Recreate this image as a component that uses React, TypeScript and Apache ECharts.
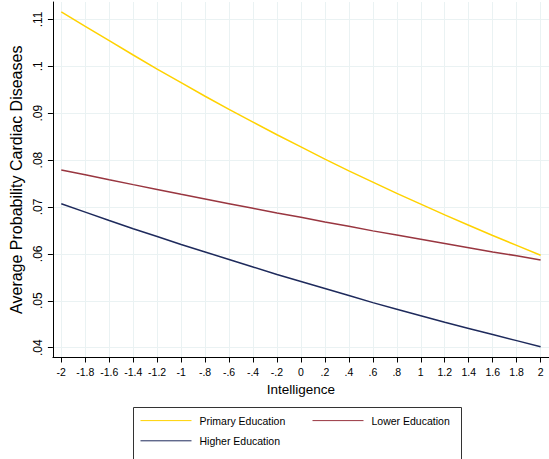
import React, { useEffect, useRef } from "react";
import * as echarts from "echarts";

const xValues = [-2, -1.8, -1.6, -1.4, -1.2, -1, -0.8, -0.6, -0.4, -0.2, 0, 0.2, 0.4, 0.6, 0.8, 1, 1.2, 1.4, 1.6, 1.8, 2];
const primaryEducation = [0.1116, 0.1085, 0.10545, 0.1024, 0.0994, 0.0965, 0.0936, 0.0908, 0.0881, 0.0854, 0.0828, 0.0802, 0.0777, 0.0753, 0.0729, 0.0706, 0.0683, 0.0661, 0.0639, 0.0618, 0.0597];
const lowerEducation = [0.0779, 0.07685, 0.0758, 0.07476, 0.07373, 0.0727, 0.0717, 0.0707, 0.0697, 0.0687, 0.0678, 0.0668, 0.0659, 0.0649, 0.064, 0.0631, 0.0622, 0.0613, 0.0604, 0.0596, 0.0587];
const higherEducation = [0.0707, 0.0689, 0.0671, 0.06535, 0.0637, 0.062, 0.0604, 0.0588, 0.0572, 0.0556, 0.0541, 0.0526, 0.0511, 0.0496, 0.0482, 0.0468, 0.0454, 0.0441, 0.0428, 0.0415, 0.0402];
const xTicks = [-2, -1.8, -1.6, -1.4, -1.2, -1, -0.8, -0.6, -0.4, -0.2, 0, 0.2, 0.4, 0.6, 0.8, 1, 1.2, 1.4, 1.6, 1.8, 2];
const yTicks = [0.04, 0.05, 0.06, 0.07, 0.08, 0.09, 0.1, 0.11];
const seriesNames = ["Primary Education", "Lower Education", "Higher Education"];

const FONT = "'Liberation Sans', Arial, sans-serif";

const fmt = (v: number) => {
  const s = String(+Number(v).toFixed(3));
  return s.replace(/^(-?)0\./, "$1.");
};

const legendBase = {
  orient: "vertical",
  padding: 0,
  itemWidth: 51,
  itemHeight: 14,
  itemGap: 9,
  itemStyle: { opacity: 0 },
  lineStyle: { width: 1 },
  textStyle: { fontSize: 10.5, color: "#000", padding: [0, 0, 0, 3], fontFamily: FONT },
};

export default function App() {
  const ref = useRef<HTMLDivElement>(null);
  useEffect(() => {
    if (!ref.current) return;
    const chart = echarts.init(ref.current, undefined, { renderer: "svg" });
    const pairs = (ys: number[]) => xValues.map((x, i) => [x, ys[i]]);
    chart.setOption({
      animation: false,
      backgroundColor: "#ffffff",
      textStyle: { fontFamily: FONT },
      grid: { left: 45, right: -1, top: 2, bottom: 101.5, containLabel: false },
      xAxis: {
        type: "value",
        min: -2.07,
        max: 2.07,
        z: 4,
        axisLine: { show: true, onZero: false, lineStyle: { color: "#000", width: 1 } },
        axisTick: { show: true, customValues: xTicks, length: 5, lineStyle: { color: "#000" } },
        axisLabel: { customValues: xTicks, formatter: fmt, fontSize: 10.5, margin: 9, color: "#000", fontFamily: FONT },
        splitLine: { show: false },
        name: "Intelligence",
        nameLocation: "middle",
        nameGap: 22,
        nameTextStyle: { fontSize: 13.5, color: "#000", fontFamily: FONT },
      },
      yAxis: {
        type: "value",
        min: 0.0379,
        max: 0.1137,
        z: 4,
        axisLine: { show: true, onZero: false, lineStyle: { color: "#000", width: 1 } },
        axisTick: { show: true, customValues: yTicks, length: 5, lineStyle: { color: "#000" } },
        axisLabel: { customValues: yTicks, formatter: fmt, rotate: 90, fontSize: 12, margin: 9, color: "#000", fontFamily: FONT },
        splitLine: { show: false },
        name: "Average Probability Cardiac Diseases",
        nameLocation: "middle",
        nameGap: 21,
        nameTextStyle: { fontSize: 16, color: "#000", fontFamily: FONT },
      },
      legend: [
        { ...legendBase, data: [seriesNames[0], seriesNames[2]], left: 140, top: 415 },
        { ...legendBase, data: [seriesNames[1]], left: 312, top: 415 },
      ],
      graphic: [
        {
          type: "rect",
          shape: { x: 133.5, y: 407.5, width: 328, height: 70 },
          style: { fill: "none", stroke: "#333", lineWidth: 1 },
          silent: true,
          z: 0,
        },
      ],
      series: [
        {
          name: "grid",
          type: "line",
          data: [],
          z: 0,
          silent: true,
          markLine: {
            z: 0,
            silent: true,
            symbol: ["none", "none"],
            label: { show: false },
            emphasis: { disabled: true },
            lineStyle: { color: "#EAF2F3", width: 1, type: "solid" },
            data: [
              ...yTicks.map((v) => ({ yAxis: v })),
              ...xTicks.map((v) => ({ xAxis: v })),
            ],
          },
        },
        {
          name: seriesNames[0],
          type: "line",
          data: pairs(primaryEducation),
          symbol: "none",
          z: 3,
          lineStyle: { color: "#FFD200", width: 1.5 },
          itemStyle: { color: "#FFD200" },
        },
        {
          name: seriesNames[1],
          type: "line",
          data: pairs(lowerEducation),
          symbol: "none",
          z: 3,
          lineStyle: { color: "#993640", width: 1.5 },
          itemStyle: { color: "#993640" },
        },
        {
          name: seriesNames[2],
          type: "line",
          data: pairs(higherEducation),
          symbol: "none",
          z: 3,
          lineStyle: { color: "#1E2A5C", width: 1.5 },
          itemStyle: { color: "#1E2A5C" },
        },
      ],
    });
    return () => chart.dispose();
  }, []);
  return (
    <div
      ref={ref}
      style={{ position: "fixed", left: 0, top: 0, width: 549, height: 459, background: "#fff" }}
    />
  );
}
